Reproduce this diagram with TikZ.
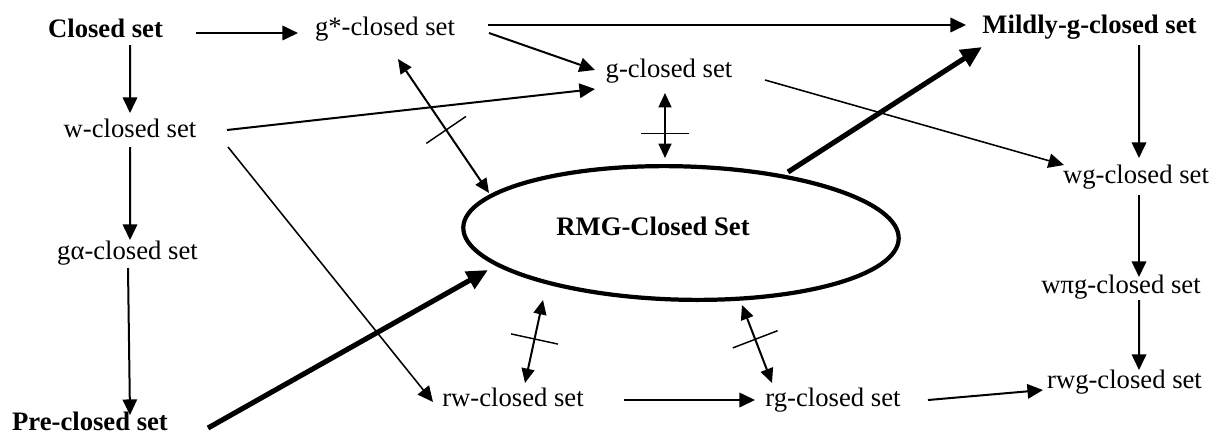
\documentclass[tikz,border=0pt]{standalone}
\usepackage{fontspec}
\setmainfont{Liberation Serif}
\usetikzlibrary{arrows.meta,calc,shapes.geometric,decorations.markings}
\begin{document}
\begin{tikzpicture}[x=0.45pt,y=-0.45pt,
        cset/.style={inner sep=0pt,text height=8.2pt,text depth=2.6pt,font=\fontsize{12pt}{14pt}\selectfont},
        bset/.style={cset,font=\fontsize{12pt}{14pt}\selectfont\bfseries},
        arr/.style={line width=0.9pt,-{Triangle[length=7pt,width=6.5pt]}},
        slim/.style={line width=0.7pt,-{Triangle[length=7pt,width=6.5pt]}},
        fat/.style={line width=2.3pt,-{Triangle[length=9.5pt,width=8.5pt]}},
        twoway/.style={line width=0.9pt,{Triangle[length=6.5pt,width=5.8pt]}-{Triangle[length=6.5pt,width=5.8pt]}},
        notrel/.style={postaction={decorate,decoration={markings,
            mark=at position #1 with {\draw[-,line width=0.65pt] (0,-24) -- (0,24);}}}}]
        \useasboundingbox (0,0) rectangle (1212,434);

        \node[bset] (cls) at (105.5,31) {Closed set};
        \node[cset] (gstar) at (385,29) {g*-closed set};
        \node[bset] (mild) at (1089.5,27) {Mildly-g-closed set};
        \node[cset] (gcl) at (669,71) {g-closed set};
        \node[cset] (wcl) at (130,131) {w-closed set};
        \node[cset] (wg) at (1136,177) {wg-closed set};
        \node[cset] (gal) at (127.5,253) {gα-closed set};
        \node[cset] (wpg) at (1121,287) {wπg-closed set};
        \node[bset] (pre) at (90,424) {Pre-closed set};
        \node[cset] (rw) at (513,400) {rw-closed set};
        \node[cset] (rg) at (833,400) {rg-closed set};
        \node[cset] (rwg) at (1124.5,382) {rwg-closed set};
        \node[draw, ellipse, line width=1.9pt, inner sep=0pt, minimum width=196pt, minimum height=60pt, rotate=-1.5] (rmg) at (681,233) {};
        \node[bset] (rmgtext) at (653,229) {RMG-Closed Set};

        \draw[arr] ($(cls)+(90.5,2)$) -- ($(gstar)+(-87,4)$);
        \draw[arr] ($(gstar)+(103,-4)$) -- ($(mild)+(-123.5,-2)$);
        \draw[arr] ($(gstar)+(104,4)$) -- ($(gcl)+(-74,-1)$);
        \draw[arr] ($(cls)+(24.5,14)$) -- ($(wcl)+(0,-18)$);
        \draw[arr] ($(wcl)+(97,-1)$) -- ($(gcl)+(-74,18)$);
        \draw[arr] ($(wcl)+(0,16)$) -- ($(gal)+(2.5,-13)$);
        \draw[slim] ($(wcl)+(98,16)$) -- ($(rw)+(-80,2)$);
        \draw[arr] ($(gal)+(0.5,15)$) -- ($(pre)+(40,-9)$);
        \draw[fat] ($(pre)+(118,4)$) -- ($(rmg)+(-193,37)$);
        \draw[fat] ($(rmg)+(107,-61)$) -- ($(mild)+(-107.5,20)$);
        \draw[twoway, notrel=0.53] ($(gstar)+(13,30)$) -- ($(rmg)+(-192,-40)$);
        \draw[twoway, notrel=0.62] ($(gcl)+(-4,22)$) -- ($(rmg)+(-16,-75)$);
        \draw[twoway, notrel=0.47] ($(rmg)+(-138,67)$) -- ($(rw)+(12,-17)$);
        \draw[twoway, notrel=0.44] ($(rmg)+(61,72)$) -- ($(rg)+(-61,-17)$);
        \draw[arr] ($(rw)+(111,0)$) -- ($(rg)+(-78,0)$);
        \draw[arr] ($(rg)+(95,0)$) -- ($(rwg)+(-81.5,8)$);
        \draw[slim] ($(gcl)+(96,9)$) -- ($(wg)+(-72,-12)$);
        \draw[arr] ($(mild)+(49.5,18)$) -- ($(wg)+(3,-19)$);
        \draw[arr] ($(wg)+(3,18)$) -- ($(wpg)+(18,-10)$);
        \draw[arr] ($(wpg)+(18,13)$) -- ($(rwg)+(14.5,-12)$);
    \end{tikzpicture}
\end{document}
